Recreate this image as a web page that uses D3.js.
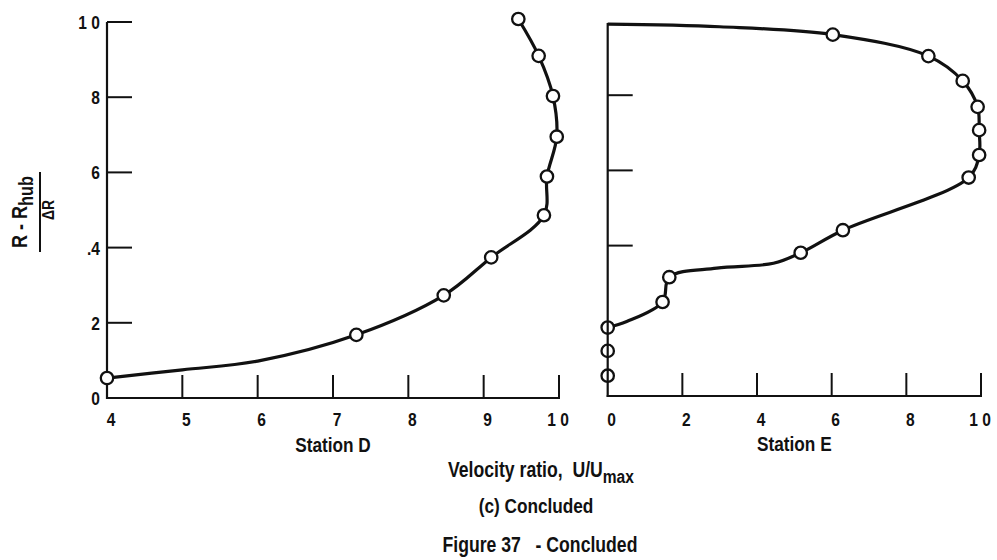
<!DOCTYPE html>
<html>
<head>
<meta charset="utf-8">
<script src="https://cdn.jsdelivr.net/npm/d3@7"></script>
<style>
  html, body { margin: 0; padding: 0; background: #fff; }
  svg { display: block; }
  text { font-family: "Liberation Sans", Arial, sans-serif; font-weight: bold; fill: #111; white-space: pre; }
</style>
</head>
<body>
<svg id="chart" width="997" height="560"></svg>
<script>
// ---- Data ----
// Station D markers: velocity ratio U/Umax and (R - Rhub)/ΔR
const stationD_U = [0.946, 0.973, 0.992, 0.997, 0.984, 0.980, 0.910, 0.847, 0.731, 0.400];
const stationD_R = [1.008, 0.910, 0.803, 0.695, 0.589, 0.486, 0.374, 0.273, 0.168, 0.053];
// Station D faired curve knots
const curveD_U = [0.946, 0.973, 0.992, 0.997, 0.984, 0.980, 0.910, 0.847, 0.731, 0.600, 0.500, 0.400];
const curveD_R = [1.008, 0.910, 0.803, 0.695, 0.589, 0.486, 0.374, 0.273, 0.168, 0.098, 0.075, 0.053];

// Station E markers
const stationE_U = [0.603, 0.859, 0.951, 0.991, 0.995, 0.995, 0.967, 0.630, 0.517, 0.165, 0.147, 0.000, 0.000, 0.000];
const stationE_R = [0.961, 0.904, 0.838, 0.769, 0.707, 0.641, 0.581, 0.441, 0.381, 0.316, 0.250, 0.182, 0.120, 0.054];
// Station E faired curve knots
const curveE_U = [0.000, 0.300, 0.603, 0.859, 0.951, 0.991, 0.995, 0.995, 0.967, 0.630, 0.517, 0.444, 0.292, 0.165, 0.147, 0.051, 0.000];
const curveE_R = [0.989, 0.982, 0.961, 0.904, 0.838, 0.769, 0.707, 0.641, 0.581, 0.441, 0.381, 0.353, 0.340, 0.316, 0.250, 0.198, 0.182];

// Axis ticks and labels
const ticksD_x = [0.5, 0.6, 0.7, 0.8, 0.9, 1.0];
const labelsD_xVal = [0.4, 0.5, 0.6, 0.7, 0.8, 0.9, 1.0];
const labelsD_x = ["4", "5", "6", "7", "8", "9", "1 0"];
const ticksD_y = [0.2, 0.4, 0.6, 0.8, 1.0];
const labelsD_yVal = [0, 0.2, 0.4, 0.6, 0.8, 1.0];
const labelsD_y = ["0", "2", ".4", "6", "8", "1 0"];
const ticksE_x = [0.2, 0.4, 0.6, 0.8, 1.0];
const labelsE_xVal = [0, 0.2, 0.4, 0.6, 0.8, 1.0];
const labelsE_x = ["0", "2", "4", "6", "8", "1 0"];
const ticksE_y = [0.4, 0.6, 0.8];

const svg = d3.select("#chart");

// ---- Scales ----
const xD = d3.scaleLinear().domain([0.4, 1.0]).range([107, 559]);
const yD = d3.scaleLinear().domain([0, 1]).range([398, 22]);
const xE = d3.scaleLinear().domain([0, 1.0]).range([607.7, 981]);
const yE = d3.scaleLinear().domain([0, 1]).range([396, 20]);

const INK = "#111";
const NARROW = 0.82;   // horizontal squeeze to mimic the condensed lettering

// text helper: a narrow-looking label at (x, y)
function label(parent, x, y, size, anchor, rot) {
  const g = parent.append("g")
    .attr("transform", `translate(${x},${y})` + (rot ? ` rotate(${rot})` : "") + ` scale(${NARROW},1)`);
  return g.append("text").attr("x", 0).attr("y", 0)
    .attr("text-anchor", anchor).attr("font-size", size);
}

function panel(x, y, xTicks, yTicks, yTop, xLabVals, xLabs) {
  const g = svg.append("g");
  g.append("line").attr("x1", x.range()[0]).attr("x2", x.range()[0])
    .attr("y1", y(0) + 1).attr("y2", yTop)
    .attr("stroke", INK).attr("stroke-width", 2.2);
  g.append("line").attr("x1", x.range()[0] - 1).attr("x2", x.range()[1] + 1)
    .attr("y1", y(0)).attr("y2", y(0))
    .attr("stroke", INK).attr("stroke-width", 2.2);
  g.selectAll(".xt").data(xTicks).enter().append("line")
    .attr("x1", d => x(d)).attr("x2", d => x(d))
    .attr("y1", y(0)).attr("y2", y(0) - 23)
    .attr("stroke", INK).attr("stroke-width", 2);
  g.selectAll(".yt").data(yTicks).enter().append("line")
    .attr("x1", x.range()[0]).attr("x2", x.range()[0] + 25)
    .attr("y1", d => y(d)).attr("y2", d => y(d))
    .attr("stroke", INK).attr("stroke-width", 2);
  xLabVals.forEach((v, i) => {
    label(g, x(v) + (xLabs[i].length > 1 ? -1 : 4), 426, 19, "middle").text(xLabs[i]);
  });
  return g;
}

const gD = panel(xD, yD, ticksD_x, ticksD_y, yD(1.0), labelsD_xVal, labelsD_x);
const gE = panel(xE, yE, ticksE_x, ticksE_y, 23, labelsE_xVal, labelsE_x);

// y tick labels (left panel only)
labelsD_yVal.forEach((v, i) => {
  label(svg, 100, yD(v) + 7, 19, "end").text(labelsD_y[i]);
});

// ---- Curves ----
const line = (x, y) => d3.line().x(d => x(d[0])).y(d => y(d[1])).curve(d3.curveCatmullRom.alpha(0.5));
const dCurve = curveD_U.map((u, i) => [u, curveD_R[i]]);
const eCurve = curveE_U.map((u, i) => [u, curveE_R[i]]);
svg.append("path").attr("d", line(xD, yD)(dCurve))
  .attr("fill", "none").attr("stroke", INK).attr("stroke-width", 3.2).attr("stroke-linejoin", "round");
svg.append("path").attr("d", line(xE, yE)(eCurve))
  .attr("fill", "none").attr("stroke", INK).attr("stroke-width", 3.2).attr("stroke-linejoin", "round");

// ---- Markers ----
const dPts = stationD_U.map((u, i) => [u, stationD_R[i]]);
const ePts = stationE_U.map((u, i) => [u, stationE_R[i]]);
svg.selectAll(".md").data(dPts).enter().append("circle")
  .attr("cx", d => xD(d[0])).attr("cy", d => yD(d[1])).attr("r", 6.2)
  .attr("fill", "#fff").attr("stroke", INK).attr("stroke-width", 2.3);
svg.selectAll(".me").data(ePts).enter().append("circle")
  .attr("cx", d => xE(d[0])).attr("cy", d => yE(d[1])).attr("r", 6.2)
  .attr("fill", "#fff").attr("stroke", INK).attr("stroke-width", 2.3);
svg.selectAll(".me0").data(ePts.filter(d => d[0] === 0)).enter().append("line")
  .attr("x1", d => xE(d[0])).attr("x2", d => xE(d[0]))
  .attr("y1", d => yE(d[1]) - 6.2).attr("y2", d => yE(d[1]) + 6.2)
  .attr("stroke", INK).attr("stroke-width", 2.2);

// ---- Axis titles ----
label(svg, xD(0.7), 452, 21, "middle").text("Station D");
label(svg, (xE.range()[0] + xE.range()[1]) / 2, 451, 21, "middle").text("Station E");

const vt = label(svg, 448, 476.5, 21.5, "start");
vt.append("tspan").text("Velocity ratio,  U/U");
vt.append("tspan").attr("dy", 6).attr("font-size", 19).text("max");

label(svg, 536, 512.5, 21, "middle").text("(c) Concluded");
label(svg, 540, 551.5, 21.5, "middle").text("Figure 37   - Concluded");

// y-axis title (rotated fraction)
const num = label(svg, 27, 212, 22, "middle", -90);
num.append("tspan").text("R - R");
num.append("tspan").attr("dy", 6).attr("font-size", 20).text("hub");
svg.append("line").attr("x1", 40).attr("x2", 40).attr("y1", 172).attr("y2", 252)
  .attr("stroke", INK).attr("stroke-width", 2);
label(svg, 54, 210, 17, "middle", -90).text("ΔR");
</script>
</body>
</html>
